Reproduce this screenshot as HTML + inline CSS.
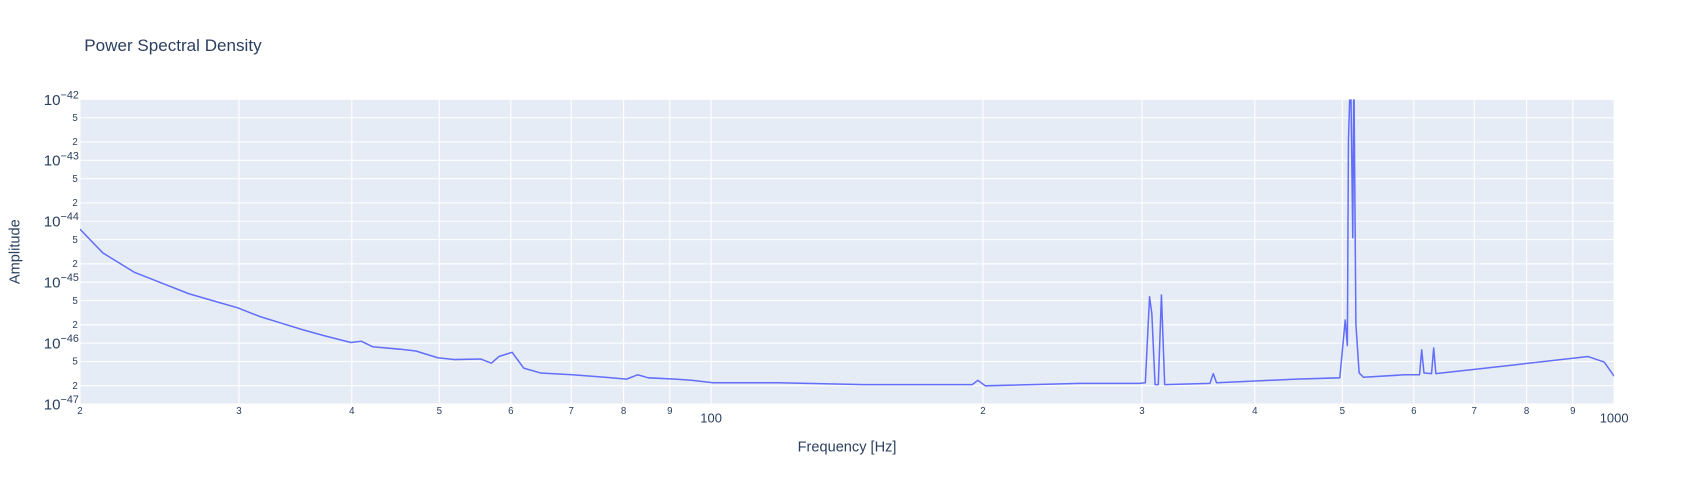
<!DOCTYPE html>
<html><head><meta charset="utf-8"><style>
body{margin:0;background:#fff;font-family:"Liberation Sans",Arial,sans-serif;overflow:hidden;}
svg text{fill:#2a3f5f;font-family:"Liberation Sans",Arial,sans-serif;}
</style></head><body>
<svg id="chart" width="1694" height="484" xmlns="http://www.w3.org/2000/svg">
<rect width="1694" height="484" fill="#fff"/>
<g transform="scale(1.0804)">
<text x="78" y="47" font-size="15.8">Power Spectral Density</text>
<rect x="74" y="92" width="1420" height="282" fill="#e5ecf6"/>
<g id="grid"></g><g id="ticks"></g>
<clipPath id="clip"><rect x="74" y="92" width="1420" height="282"/></clipPath>
<g clip-path="url(#clip)" id="series"></g>
<text x="784" y="418" font-size="13.5" text-anchor="middle">Frequency [Hz]</text>
<text transform="translate(18,233) rotate(-90)" font-size="13.5" text-anchor="middle">Amplitude</text>
</g>
</svg>
<script>
const freqs=[20,21.2,23.0,24.6,26.4,28.3,29.9,31.6,33.4,35.3,37.3,39.9,41.0,42.2,45.2,47.1,49.8,51.9,55.6,57.1,58.2,60.2,62.0,64.7,70.2,76.3,80.6,82.9,85.2,91.3,95.1,100.5,118.6,147.8,194.6,197.4,201.2,256.4,298.4,302.6,305.9,307.6,310.2,312.8,315.3,317.9,356.8,359.8,362.8,444.8,496.8,503.7,506.5,507.9,510.7,513.5,514.9,517.7,522.0,527.8,586.1,608.9,612.3,615.7,627.7,631.2,634.7,772,936,975,1000];
const logAmp=[-44.13,-44.52,-44.84,-45.01,-45.19,-45.32,-45.42,-45.56,-45.67,-45.78,-45.88,-45.99,-45.97,-46.06,-46.10,-46.13,-46.24,-46.27,-46.26,-46.33,-46.22,-46.15,-46.41,-46.49,-46.52,-46.56,-46.59,-46.52,-46.57,-46.59,-46.61,-46.65,-46.65,-46.68,-46.68,-46.61,-46.70,-46.66,-46.66,-46.65,-45.24,-45.51,-46.68,-46.68,-45.21,-46.68,-46.66,-46.50,-46.65,-46.59,-46.57,-45.62,-46.04,-42.67,-41.5,-44.27,-41.5,-45.69,-46.49,-46.56,-46.52,-46.52,-46.11,-46.49,-46.50,-46.08,-46.50,-46.36,-46.22,-46.31,-46.54];
const xMajor=[20,30,40,50,60,70,80,90,100,200,300,400,500,600,700,800,900,1000];
const xLabels=["2","3","4","5","6","7","8","9","100","2","3","4","5","6","7","8","9","1000"];
const yDecades=[-47,-46,-45,-44,-43,-42];
const NS="http://www.w3.org/2000/svg";
const X0=74,X1=1494,Y0=374,Y1=92,LMIN=Math.log10(20),LMAX=3;
function xs(f){return X0+(Math.log10(f)-LMIN)/(LMAX-LMIN)*(X1-X0);}
function ys(e){return Y0-(e-(-47))/5*(Y0-Y1);}
function mk(tag,attrs,parent,text){const e=document.createElementNS(NS,tag);for(const k in attrs)e.setAttribute(k,attrs[k]);if(text!==undefined)e.textContent=text;parent.appendChild(e);return e;}
const grid=document.getElementById('grid'),ticks=document.getElementById('ticks');
xMajor.forEach((f,i)=>{const x=xs(f);
 const l=mk('line',{x1:x,x2:x,y1:Y1,y2:Y0,stroke:'#fff','stroke-width':1},grid);
 
 
 const big=(f===100||f===1000);
 const t=mk('text',{x:x,y:big?391:383,'font-size':big?12:9,'text-anchor':'middle'},ticks,xLabels[i]);
 
 
});
yDecades.forEach(d=>{
 [[0,null],[Math.log10(2),'2'],[Math.log10(5),'5']].forEach(([o,lab])=>{
  const e=d+o; if(e>-42+1e-9)return; const y=ys(e);
  const l=mk('line',{x1:X0,x2:X1,y1:y,y2:y,stroke:'#fff','stroke-width':1},grid);
  
  
  let t;
  if(lab){t=mk('text',{x:72,y:y+3,'font-size':9,'text-anchor':'end'},ticks,lab);}
  else{t=mk('text',{x:73,y:y+5,'font-size':14,'text-anchor':'end'},ticks);
   t.textContent='10';mk('tspan',{dy:-6,'font-size':10},t,'\u2212'+(-d));}
  
  
 });
});
const pts=freqs.map((f,i)=>xs(f).toFixed(1)+','+ys(logAmp[i]).toFixed(1)).join(' ');
const pl=mk('polyline',{points:pts,fill:'none',stroke:'#636efa','stroke-width':1.4,'stroke-linejoin':'round'},document.getElementById('series'));


</script>
</body></html>
